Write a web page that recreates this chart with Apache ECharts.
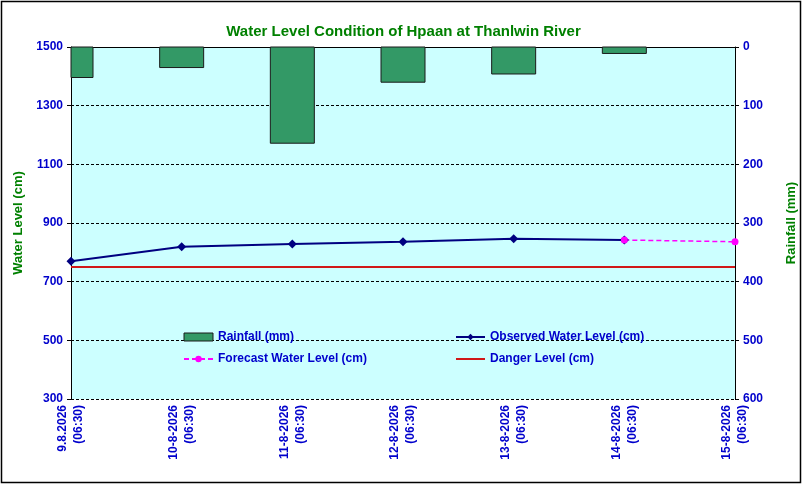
<!DOCTYPE html>
<html>
<head>
<meta charset="utf-8">
<script src="https://cdn.jsdelivr.net/npm/echarts@6/dist/echarts.min.js"></script>
<style>
	html, body { margin: 0; padding: 0; background: #fff; }
	#chart { width: 807px; height: 487px; }
</style>
</head>
<body>
<div id="chart"></div>
<script>
// data
var dates = ['9.8.2026\n(06:30)', '10-8-2026\n(06:30)', '11-8-2026\n(06:30)', '12-8-2026\n(06:30)',
	'13-8-2026\n(06:30)', '14-8-2026\n(06:30)', '15-8-2026\n(06:30)'];
var rainfall = [52, 35, 164, 60, 46, 11, '-'];
var observed = [770, 819, 828, 836, 846, 842, '-'];
var forecast = ['-', '-', '-', '-', '-', 842, 836];
var danger = [750, 750, 750, 750, 750, 750, 750];
var levelTicks = [300, 500, 700, 900, 1100, 1300, 1500];
var rainTicks = [0, 100, 200, 300, 400, 500, 600];

var labelBlue = '#0000CC';
var font = '"Liberation Sans", Arial, sans-serif';
var narrow = '"Liberation Sans Narrow", "Liberation Sans", Arial, sans-serif';
var barFill = '#339966';

// bars hang from the top (inverse rainfall axis), clipped to the plot like Excel does
function renderRain(params, api) {
	var v = api.value(1);
	if (isNaN(v)) return;
	var top = api.coord([api.value(0), 0]);
	var bottom = api.coord([api.value(0), v]);
	var w = 44;
	var rect = echarts.graphic.clipRectByRect(
		{ x: top[0] - w / 2, y: top[1], width: w, height: bottom[1] - top[1] },
		{ x: params.coordSys.x, y: params.coordSys.y, width: params.coordSys.width, height: params.coordSys.height }
	);
	if (!rect) return;
	return {
		type: 'rect',
		shape: rect,
		style: { fill: barFill, stroke: '#1a1a1a', lineWidth: 1 }
	};
}

var chart = echarts.init(document.getElementById('chart'));

var legendText = { color: labelBlue, fontFamily: narrow, fontWeight: 'bold', fontSize: 12 };

var option = {
	backgroundColor: '#fff',
	animation: false,
	title: {
		text: 'Water Level Condition of Hpaan at Thanlwin River',
		left: 'center',
		top: 19,
		textStyle: {
			color: '#008000',
			fontFamily: font,
			fontWeight: 'bold',
			fontSize: 15
		}
	},
	grid: {
		left: 71,
		right: 72,
		top: 47,
		bottom: 88,
		show: true,
		backgroundColor: '#CCFFFF',
		borderWidth: 0
	},
	legend: [{
		left: 183,
		top: 331,
		padding: 0,
		orient: 'vertical',
		itemGap: 10,
		itemWidth: 29,
		itemHeight: 8,
		data: [
			{ name: 'Rainfall (mm)', icon: 'rect', itemStyle: { color: barFill, borderColor: '#1a1a1a', borderWidth: 1 } },
			'Forecast Water Level (cm)'
		],
		textStyle: legendText
	}, {
		left: 455,
		top: 331,
		padding: 0,
		orient: 'vertical',
		itemGap: 10,
		itemWidth: 29,
		itemHeight: 8,
		data: ['Observed Water Level (cm)', 'Danger Level (cm)'],
		textStyle: legendText
	}],
	xAxis: {
		type: 'category',
		boundaryGap: false,
		data: dates,
		axisLine: { show: true, lineStyle: { color: '#000', width: 1 } },
		axisTick: { show: true, length: 4, lineStyle: { color: '#000' } },
		splitLine: { show: false },
		axisLabel: {
			rotate: 90,
			margin: 6,
			color: labelBlue,
			fontFamily: font,
			fontWeight: 'bold',
			fontSize: 12,
			lineHeight: 16,
			interval: 0
		}
	},
	yAxis: [{
		type: 'value',
		min: 300,
		max: 1500,
		name: 'Water Level (cm)',
		nameLocation: 'middle',
		nameRotate: 90,
		nameGap: 42,
		nameTextStyle: { color: '#008000', fontFamily: font, fontWeight: 'bold', fontSize: 13 },
		axisLine: { show: true, lineStyle: { color: '#000' } },
		axisTick: { show: true, length: 4, lineStyle: { color: '#000' }, customValues: levelTicks },
		axisLabel: {
			customValues: levelTicks,
			margin: 8,
			color: labelBlue,
			fontFamily: font,
			fontWeight: 'bold',
			fontSize: 12,
			formatter: function (v) { return String(v); }
		},
		splitLine: { show: false }
	}, {
		type: 'value',
		min: 0,
		max: 600,
		interval: 100,
		inverse: true,
		position: 'right',
		name: 'Rainfall (mm)',
		nameLocation: 'middle',
		nameRotate: 90,
		nameGap: 50,
		nameTextStyle: { color: '#008000', fontFamily: font, fontWeight: 'bold', fontSize: 13 },
		axisLine: { show: true, lineStyle: { color: '#000' } },
		axisTick: { show: true, length: 4, lineStyle: { color: '#000' }, customValues: rainTicks },
		axisLabel: {
			customValues: rainTicks,
			margin: 8,
			color: labelBlue,
			fontFamily: font,
			fontWeight: 'bold',
			fontSize: 12
		},
		splitLine: {
			show: true,
			lineStyle: { color: '#000', type: [3, 2], width: 1 }
		}
	}],
	series: [{
		name: 'Rainfall (mm)',
		type: 'custom',
		yAxisIndex: 1,
		renderItem: renderRain,
		itemStyle: { color: barFill },
		encode: { x: 0, y: 1 },
		data: rainfall.map(function (v, i) { return [i, v]; })
	}, {
		name: 'Danger Level (cm)',
		type: 'line',
		yAxisIndex: 0,
		symbol: 'line',
		showSymbol: false,
		lineStyle: { color: '#D01818', width: 2 },
		itemStyle: { color: '#D01818' },
		data: danger
	}, {
		name: 'Observed Water Level (cm)',
		type: 'line',
		yAxisIndex: 0,
		symbol: 'diamond',
		symbolSize: 9,
		lineStyle: { color: '#000080', width: 2 },
		itemStyle: { color: '#000080' },
		data: observed
	}, {
		name: 'Forecast Water Level (cm)',
		type: 'line',
		yAxisIndex: 0,
		symbol: 'circle',
		symbolSize: 7,
		lineStyle: { color: '#FF00FF', width: 1.5, type: [5, 3] },
		itemStyle: { color: '#FF00FF' },
		data: forecast
	}],
	graphic: [{
		type: 'rect',
		shape: { x: 1.5, y: 1.5, width: 799, height: 481 },
		style: { fill: 'none', stroke: '#000', lineWidth: 1.5 },
		silent: true
	}]
};

chart.setOption(option);
</script>
</body>
</html>
